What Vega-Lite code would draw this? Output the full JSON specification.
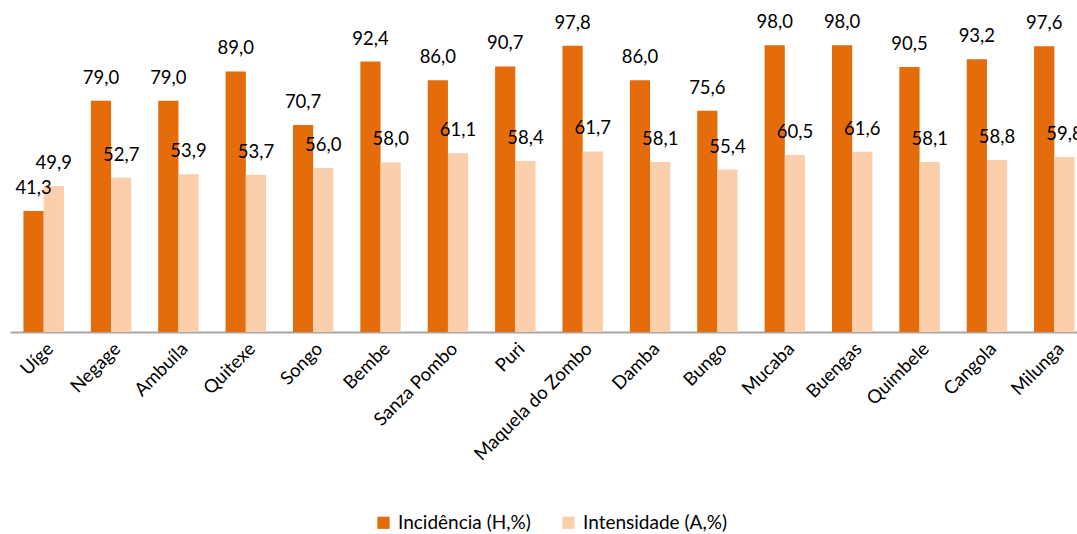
{
  "$schema": "https://vega.github.io/schema/vega-lite/v6.json",
  "width": 1078,
  "height": 322,
  "autosize": "none",
  "padding": {"left": 10, "top": 10, "right": 0, "bottom": 202},
  "config": {
    "view": {"stroke": null},
    "font": "Lato",
    "locale": {"number": {"decimal": ",", "thousands": ".", "grouping": [3], "currency": ["", " €"]}}
  },
  "data": {
    "values": [
      {"municipio": "Uíge", "serie": "Incidência (H,%)", "valor": 41.3},
      {"municipio": "Uíge", "serie": "Intensidade (A,%)", "valor": 49.9},
      {"municipio": "Negage", "serie": "Incidência (H,%)", "valor": 79.0},
      {"municipio": "Negage", "serie": "Intensidade (A,%)", "valor": 52.7},
      {"municipio": "Ambuíla", "serie": "Incidência (H,%)", "valor": 79.0},
      {"municipio": "Ambuíla", "serie": "Intensidade (A,%)", "valor": 53.9},
      {"municipio": "Quitexe", "serie": "Incidência (H,%)", "valor": 89.0},
      {"municipio": "Quitexe", "serie": "Intensidade (A,%)", "valor": 53.7},
      {"municipio": "Songo", "serie": "Incidência (H,%)", "valor": 70.7},
      {"municipio": "Songo", "serie": "Intensidade (A,%)", "valor": 56.0},
      {"municipio": "Bembe", "serie": "Incidência (H,%)", "valor": 92.4},
      {"municipio": "Bembe", "serie": "Intensidade (A,%)", "valor": 58.0},
      {"municipio": "Sanza Pombo", "serie": "Incidência (H,%)", "valor": 86.0},
      {"municipio": "Sanza Pombo", "serie": "Intensidade (A,%)", "valor": 61.1},
      {"municipio": "Puri", "serie": "Incidência (H,%)", "valor": 90.7},
      {"municipio": "Puri", "serie": "Intensidade (A,%)", "valor": 58.4},
      {"municipio": "Maquela do Zombo", "serie": "Incidência (H,%)", "valor": 97.8},
      {"municipio": "Maquela do Zombo", "serie": "Intensidade (A,%)", "valor": 61.7},
      {"municipio": "Damba", "serie": "Incidência (H,%)", "valor": 86.0},
      {"municipio": "Damba", "serie": "Intensidade (A,%)", "valor": 58.1},
      {"municipio": "Bungo", "serie": "Incidência (H,%)", "valor": 75.6},
      {"municipio": "Bungo", "serie": "Intensidade (A,%)", "valor": 55.4},
      {"municipio": "Mucaba", "serie": "Incidência (H,%)", "valor": 98.0},
      {"municipio": "Mucaba", "serie": "Intensidade (A,%)", "valor": 60.5},
      {"municipio": "Buengas", "serie": "Incidência (H,%)", "valor": 98.0},
      {"municipio": "Buengas", "serie": "Intensidade (A,%)", "valor": 61.6},
      {"municipio": "Quimbele", "serie": "Incidência (H,%)", "valor": 90.5},
      {"municipio": "Quimbele", "serie": "Intensidade (A,%)", "valor": 58.1},
      {"municipio": "Cangola", "serie": "Incidência (H,%)", "valor": 93.2},
      {"municipio": "Cangola", "serie": "Intensidade (A,%)", "valor": 58.8},
      {"municipio": "Milunga", "serie": "Incidência (H,%)", "valor": 97.6},
      {"municipio": "Milunga", "serie": "Intensidade (A,%)", "valor": 59.8}
    ]
  },
  "encoding": {
    "x": {
      "field": "municipio",
      "type": "nominal",
      "sort": null,
      "scale": {"paddingInner": 0.4, "paddingOuter": 0.2},
      "axis": {
        "title": null,
        "labelAngle": -45,
        "labelAlign": "right",
        "labelBaseline": "top",
        "labelFontSize": 18.5,
        "labelColor": "#000000",
        "labelPadding": 7,
        "ticks": false,
        "domainColor": "#A6A6A6",
        "domainWidth": 2
      }
    },
    "xOffset": {
      "field": "serie",
      "type": "nominal",
      "sort": ["Incidência (H,%)", "Intensidade (A,%)"],
      "scale": {"paddingInner": 0, "paddingOuter": 0}
    },
    "y": {
      "field": "valor",
      "type": "quantitative",
      "scale": {"domain": [0, 110], "nice": false},
      "axis": null
    }
  },
  "layer": [
    {
      "mark": {"type": "bar"},
      "encoding": {
        "color": {
          "field": "serie",
          "type": "nominal",
          "sort": ["Incidência (H,%)", "Intensidade (A,%)"],
          "scale": {"range": ["#E46C0A", "#FBCFAC"]},
          "legend": {
            "title": null,
            "orient": "none",
            "direction": "horizontal",
            "legendX": 364,
            "legendY": 503,
            "symbolType": "square",
            "symbolSize": 150,
            "symbolStrokeWidth": 0,
            "labelFontSize": 19,
            "labelColor": "#000000",
            "columnPadding": 28,
            "labelOffset": 5
          }
        }
      }
    },
    {
      "mark": {"type": "text", "baseline": "alphabetic", "dy": -17, "fontSize": 18.5, "color": "#000000"},
      "encoding": {
        "text": {"field": "valor", "type": "quantitative", "format": ".1f"}
      }
    }
  ]
}
